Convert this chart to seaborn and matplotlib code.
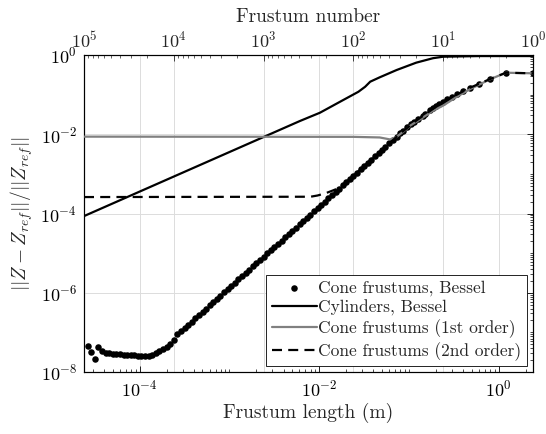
import numpy as np
import pandas as pd
import matplotlib
matplotlib.use("Agg")
import matplotlib.pyplot as plt
import matplotlib.ticker as mticker
import seaborn as sns

# --- data ---
L_TOTAL = 2.4  # total length (m): frustum length = L_TOTAL / frustum number

# Cone frustums, Bessel (dots)
DOT_N = [91200, 83200, 75900, 69200, 63100, 57500, 52500, 47900, 43700, 39800,
         36300, 33100, 30200, 27500, 25100, 22900, 20900, 19100, 17400, 15800,
         14500, 13200, 12000, 11000, 10000, 9120, 8320, 7590, 6920, 6310,
         5750, 5250, 4790, 4370, 3980, 3630, 3310, 3020, 2750, 2510,
         2290, 2090, 1910, 1740, 1580, 1450, 1320, 1200, 1100, 1000,
         912, 832, 759, 692, 631, 575, 525, 479, 437, 398,
         363, 331, 302, 275, 251, 229, 209, 191, 174, 158,
         145, 132, 120, 110, 100, 91, 83, 76, 69, 63,
         58, 52, 48, 44, 40, 36, 33, 30, 28, 25,
         23, 21, 19, 17, 16, 14, 13, 12, 11, 10,
         9, 8, 7, 6, 5, 4, 3, 2, 1]
DOT_ERR = [4.6e-8, 3.2e-8, 2.1e-8, 4.3e-8, 3.4e-8, 3.1e-8, 3.0e-8, 2.9e-8, 2.85e-8, 2.8e-8,
           2.75e-8, 2.7e-8, 2.7e-8, 2.65e-8, 2.6e-8, 2.55e-8, 2.5e-8, 2.6e-8, 2.75e-8, 3.0e-8,
           3.3e-8, 3.7e-8, 4.2e-8, 5.0e-8, 6.5e-8, 8.9e-8, 1.07e-7, 1.29e-7, 1.56e-7, 1.88e-7,
           2.27e-7, 2.74e-7, 3.31e-7, 4.00e-7, 4.82e-7, 5.82e-7, 7.03e-7, 8.49e-7, 1.02e-6, 1.24e-6,
           1.49e-6, 1.80e-6, 2.17e-6, 2.62e-6, 3.17e-6, 3.82e-6, 4.61e-6, 5.57e-6, 6.72e-6, 8.11e-6,
           9.79e-6, 1.18e-5, 1.43e-5, 1.72e-5, 2.08e-5, 2.51e-5, 3.03e-5, 3.66e-5, 4.41e-5, 5.33e-5,
           6.43e-5, 7.76e-5, 9.37e-5, 1.13e-4, 1.36e-4, 1.65e-4, 1.99e-4, 2.40e-4, 2.90e-4, 3.50e-4,
           4.22e-4, 5.09e-4, 6.15e-4, 7.42e-4, 8.95e-4, 1.08e-3, 1.30e-3, 1.57e-3, 1.90e-3, 2.30e-3,
           2.77e-3, 3.34e-3, 4.04e-3, 4.87e-3, 5.88e-3, 7.10e-3, 8.57e-3, 1.05e-2, 1.21e-2, 1.52e-2,
           1.77e-2, 2.07e-2, 2.44e-2, 2.96e-2, 3.25e-2, 3.99e-2, 4.47e-2, 5.04e-2, 5.74e-2, 6.62e-2,
           7.55e-2, 8.75e-2, 0.103, 0.123, 0.150, 0.188, 0.248, 0.357, 0.345]

# Cylinders, Bessel
CYL_N = [100000, 394, 236, 141, 88, 74, 65, 51, 33, 20, 13, 10, 4, 1]
CYL_ERR = [8.6e-5, 2.16e-2, 3.49e-2, 6.6e-2, 0.118, 0.158, 0.212, 0.273, 0.418,
           0.64, 0.83, 0.906, 0.94, 0.94]

# Cone frustums (1st order)
FIRST_N = [100000, 100, 51, 39, 33, 28, 23, 17, 13, 10, 7, 5, 3, 2, 1]
FIRST_ERR = [8.7e-3, 8.6e-3, 8.3e-3, 7.4e-3, 8.6e-3, 1.15e-2, 1.68e-2, 2.6e-2, 3.9e-2,
             5.3e-2, 8.9e-2, 0.138, 0.245, 0.357, 0.345]

# Cone frustums (2nd order)
SECOND_N = [100000, 300, 250, 200, 170, 141, 120, 100, 50, 30, 20, 10, 5, 3, 2, 1]
SECOND_ERR = [2.6e-4, 2.65e-4, 2.85e-4, 3.3e-4, 3.8e-4, 4.5e-4, 6.15e-4, 8.95e-4,
              3.7e-3, 1.05e-2, 2.2e-2, 6.6e-2, 0.150, 0.248, 0.357, 0.345]

LABELS = ['Cone frustums, Bessel', 'Cylinders, Bessel',
          'Cone frustums (1st order)', 'Cone frustums (2nd order)']


def to_frame(ns, errs):
    n = np.asarray(ns, dtype=float)
    return pd.DataFrame({'length': L_TOTAL / n, 'err': errs})


sns.set_theme(style="white")
plt.rcParams.update({
    'font.family': 'serif',
    'font.serif': ['cmr10'],
    'mathtext.fontset': 'cm',
    'axes.formatter.use_mathtext': True,
    'axes.unicode_minus': False,
    'axes.edgecolor': 'black',
    'axes.linewidth': 0.8,
})

fig = plt.figure(figsize=(5.46, 4.34), dpi=100)
ax = fig.add_axes([84 / 546, 1 - 372 / 434, (533 - 84) / 546, (372 - 55) / 434])
ax2 = ax.twiny()

sns.scatterplot(data=to_frame(DOT_N, DOT_ERR), x='length', y='err', ax=ax,
                color='black', s=22, linewidth=0, zorder=3, label=LABELS[0])
sns.lineplot(data=to_frame(CYL_N, CYL_ERR), x='length', y='err', ax=ax,
             color='black', linewidth=1.6, zorder=4, label=LABELS[1])
sns.lineplot(data=to_frame(FIRST_N, FIRST_ERR), x='length', y='err', ax=ax,
             color='#808080', linewidth=1.6, zorder=5, label=LABELS[2])
sns.lineplot(data=to_frame(SECOND_N, SECOND_ERR), x='length', y='err', ax=ax,
             color='black', linewidth=1.6, linestyle=(0, (4.5, 2.8)), zorder=6,
             label=LABELS[3])

ax.set_xscale('log')
ax.set_yscale('log')
ax.set_xlim(L_TOTAL / 1e5, L_TOTAL)
ax.set_ylim(1e-8, 1e0)

ax.set_xticks([1e-4, 1e-2, 1e0])
ax.xaxis.set_minor_locator(mticker.LogLocator(base=10, subs=np.arange(1, 10), numticks=100))
ax.xaxis.set_minor_formatter(mticker.NullFormatter())
ax.set_yticks([1e-8, 1e-6, 1e-4, 1e-2, 1e0])
ax.yaxis.set_minor_locator(mticker.LogLocator(base=10, subs=np.arange(1, 10), numticks=100))
ax.yaxis.set_minor_formatter(mticker.NullFormatter())

ax2.set_xscale('log')
ax2.set_xlim(1e5, 1e0)
ax2.set_xticks([1e5, 1e4, 1e3, 1e2, 1e1, 1e0])
ax2.xaxis.set_minor_locator(mticker.LogLocator(base=10, subs=np.arange(1, 10), numticks=100))
ax2.xaxis.set_minor_formatter(mticker.NullFormatter())

grid_kw = dict(color='#dcdcdc', linewidth=0.7)
ax.grid(True, which='major', **grid_kw)
ax2.grid(True, which='major', axis='x', **grid_kw)
ax.set_axisbelow(True)
ax.set_zorder(ax2.get_zorder() + 1)
ax.patch.set_visible(False)

ax.tick_params(which='both', direction='in', top=False, right=True, labelsize=13,
               colors='black', pad=5)
ax.tick_params(which='major', length=4, width=0.6)
ax.tick_params(which='minor', length=2, width=0.5)
ax2.tick_params(which='both', direction='in', labelsize=13, pad=3)
ax2.tick_params(which='major', length=4, width=0.6)
ax2.tick_params(which='minor', length=2, width=0.5)

ax.set_xlabel('Frustum length (m)', fontsize=14, labelpad=2)
ax.set_ylabel(r'$||Z - Z_{ref}||/||Z_{ref}||$', fontsize=14, labelpad=4)
ax2.set_xlabel('Frustum number', fontsize=14, labelpad=6)

leg = ax.legend(loc='lower right', fontsize=12.5, frameon=True, fancybox=False,
                framealpha=1, edgecolor='black', borderpad=0.3, labelspacing=0.22,
                handlelength=2.6, handletextpad=0.1, borderaxespad=0.35,
                scatterpoints=1)
leg.get_frame().set_linewidth(0.6)

fig.savefig('out.png', dpi=100)
